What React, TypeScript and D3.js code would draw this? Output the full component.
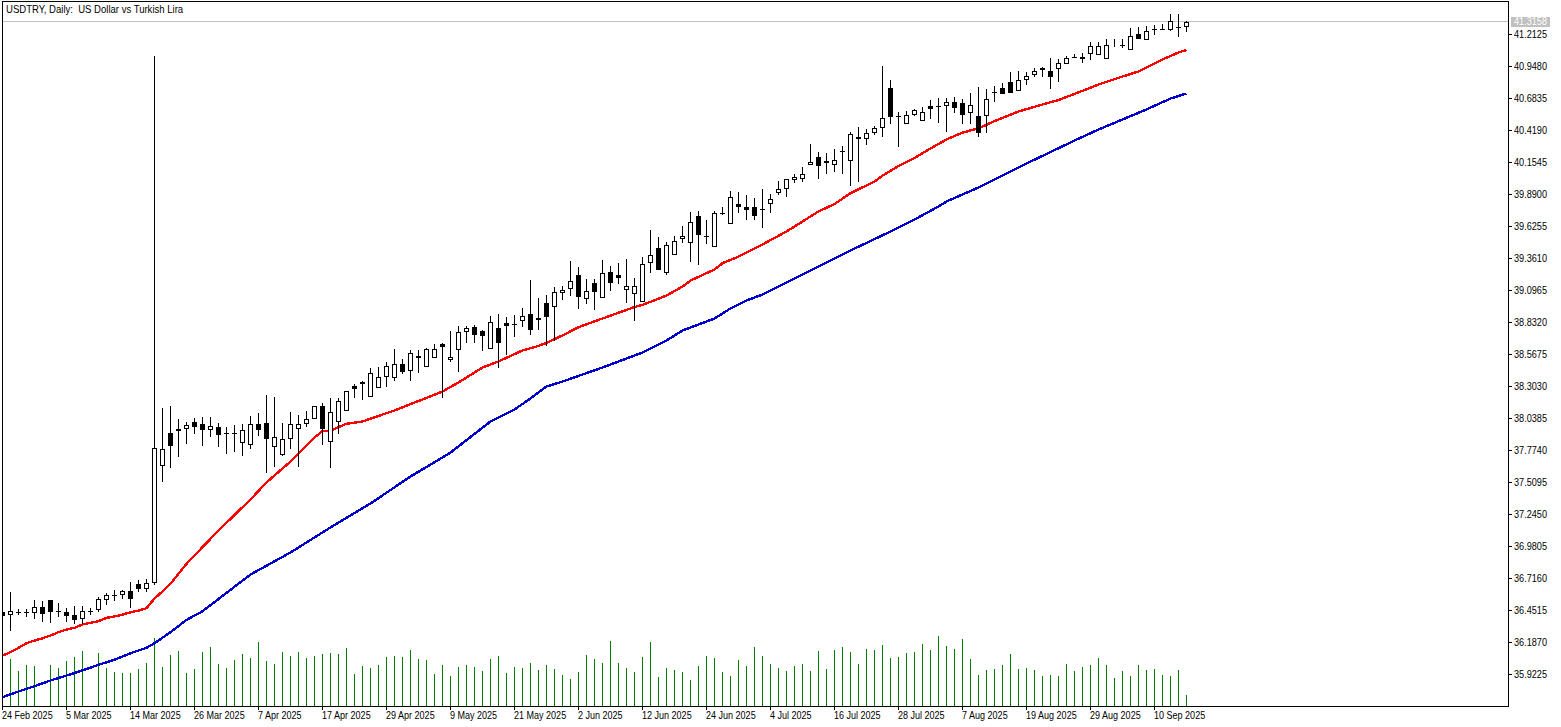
import React from "react";
import * as d3 from "d3";

const opens = [
  36.435, 36.408, 36.439, 36.435, 36.424, 36.474, 36.531, 36.444, 36.435, 36.408,
  36.375, 36.444, 36.454, 36.537, 36.576, 36.573, 36.606, 36.664, 36.628, 36.672,
  37.640, 37.912, 37.945, 37.945, 38.003, 37.986, 37.942, 37.962, 37.915, 37.915,
  37.829, 37.813, 37.986, 37.997, 37.796, 37.730, 37.862, 37.945, 37.986, 38.028,
  38.135, 37.838, 38.003, 38.094, 38.300, 38.317, 38.210, 38.284, 38.375, 38.367,
  38.482, 38.424, 38.549, 38.458, 38.532, 38.648, 38.515, 38.598, 38.747, 38.788,
  38.755, 38.606, 38.780, 38.821, 38.813, 38.838, 38.896, 38.863, 38.987, 38.953,
  39.069, 39.102, 39.218, 39.020, 39.152, 39.028, 39.243, 39.218, 39.094, 39.061,
  38.999, 39.317, 39.441, 39.235, 39.383, 39.515, 39.482, 39.705, 39.540, 39.449,
  39.732, 39.639, 39.807, 39.782, 39.782, 39.766, 39.809, 39.900, 39.928, 40.003,
  40.011, 40.127, 40.194, 40.160, 40.127, 40.243, 40.160, 40.342, 40.342, 40.392,
  40.433, 40.764, 40.532, 40.466, 40.540, 40.491, 40.615, 40.615, 40.615, 40.648,
  40.640, 40.557, 40.532, 40.532, 40.733, 40.764, 40.813, 40.739, 40.830, 40.871,
  40.929, 40.904, 40.921, 40.962, 41.020, 41.020, 41.045, 41.036, 41.003, 41.105,
  41.119, 41.080, 41.210, 41.160, 41.251, 41.251, 41.243, 41.268, 41.268,
];
const highs = [
  36.460, 36.600, 36.462, 36.457, 36.534, 36.523, 36.531, 36.509, 36.470, 36.482,
  36.484, 36.470, 36.556, 36.592, 36.619, 36.619, 36.685, 36.699, 36.710, 41.031,
  38.121, 38.135, 38.030, 38.005, 38.038, 38.044, 38.044, 37.997, 37.964, 37.981,
  37.989, 38.055, 38.080, 38.228, 38.212, 37.997, 38.086, 38.063, 38.094, 38.135,
  38.162, 38.201, 38.201, 38.259, 38.319, 38.344, 38.452, 38.460, 38.504, 38.609,
  38.526, 38.598, 38.601, 38.615, 38.650, 38.656, 38.758, 38.799, 38.799, 38.805,
  38.763, 38.879, 38.896, 38.871, 38.887, 38.945, 39.179, 39.030, 39.055, 39.118,
  39.127, 39.336, 39.284, 39.185, 39.185, 39.342, 39.292, 39.320, 39.350, 39.193,
  39.367, 39.592, 39.532, 39.491, 39.540, 39.625, 39.738, 39.749, 39.675, 39.747,
  39.780, 39.915, 39.904, 39.881, 39.857, 39.931, 39.887, 39.997, 40.011, 40.053,
  40.113, 40.303, 40.235, 40.226, 40.262, 40.287, 40.400, 40.444, 40.425, 40.450,
  40.948, 40.832, 40.565, 40.573, 40.590, 40.607, 40.664, 40.681, 40.681, 40.689,
  40.673, 40.722, 40.772, 40.755, 40.783, 40.805, 40.898, 40.907, 40.896, 40.929,
  40.937, 41.014, 41.003, 41.028, 41.047, 41.053, 41.144, 41.144, 41.169, 41.169,
  41.169, 41.260, 41.268, 41.276, 41.284, 41.293, 41.375, 41.375, 41.317,
];
const lows = [
  36.385, 36.280, 36.408, 36.396, 36.374, 36.352, 36.346, 36.391, 36.352, 36.336,
  36.336, 36.408, 36.437, 36.495, 36.528, 36.540, 36.465, 36.598, 36.603, 36.660,
  37.512, 37.625, 37.719, 37.824, 37.906, 37.807, 37.881, 37.799, 37.741, 37.758,
  37.724, 37.785, 37.890, 37.584, 37.636, 37.727, 37.780, 37.636, 37.967, 38.028,
  37.815, 37.625, 37.906, 38.094, 38.204, 38.187, 38.210, 38.284, 38.295, 38.344,
  38.405, 38.347, 38.413, 38.458, 38.532, 38.206, 38.504, 38.421, 38.661, 38.661,
  38.595, 38.606, 38.454, 38.557, 38.711, 38.788, 38.722, 38.763, 38.631, 38.675,
  39.016, 39.044, 38.942, 38.983, 38.934, 39.028, 39.091, 39.149, 38.992, 38.840,
  38.999, 39.240, 39.259, 39.218, 39.383, 39.482, 39.325, 39.305, 39.479, 39.449,
  39.718, 39.639, 39.735, 39.675, 39.675, 39.611, 39.733, 39.881, 39.865, 39.981,
  39.989, 40.127, 40.014, 40.055, 40.072, 40.055, 39.956, 39.989, 40.295, 40.380,
  40.361, 40.466, 40.281, 40.466, 40.532, 40.491, 40.510, 40.479, 40.400, 40.557,
  40.466, 40.466, 40.364, 40.392, 40.650, 40.714, 40.722, 40.739, 40.788, 40.855,
  40.855, 40.755, 40.813, 40.962, 41.012, 40.970, 40.995, 41.036, 41.003, 41.103,
  41.094, 41.078, 41.169, 41.160, 41.202, 41.243, 41.235, 41.185, 41.231,
];
const closes = [
  36.404, 36.441, 36.431, 36.427, 36.479, 36.421, 36.437, 36.433, 36.404, 36.371,
  36.446, 36.435, 36.540, 36.573, 36.565, 36.606, 36.540, 36.625, 36.675, 37.788,
  37.780, 37.809, 37.934, 37.978, 37.967, 37.942, 37.970, 37.901, 37.909, 37.909,
  37.937, 37.986, 37.942, 37.867, 37.879, 37.867, 37.986, 37.986, 38.028, 38.135,
  37.950, 38.086, 38.176, 38.259, 38.281, 38.334, 38.408, 38.375, 38.466, 38.482,
  38.421, 38.573, 38.537, 38.606, 38.606, 38.628, 38.540, 38.747, 38.780, 38.722,
  38.714, 38.830, 38.656, 38.796, 38.805, 38.879, 38.763, 38.846, 38.877, 39.078,
  39.094, 39.168, 39.041, 39.086, 39.082, 39.235, 39.157, 39.198, 39.127, 39.127,
  39.309, 39.383, 39.259, 39.466, 39.499, 39.540, 39.656, 39.553, 39.532, 39.730,
  39.722, 39.867, 39.785, 39.757, 39.710, 39.757, 39.846, 39.928, 40.011, 40.028,
  40.053, 40.152, 40.119, 40.143, 40.169, 40.234, 40.383, 40.359, 40.392, 40.433,
  40.516, 40.524, 40.524, 40.540, 40.581, 40.565, 40.595, 40.607, 40.648, 40.598,
  40.539, 40.623, 40.392, 40.673, 40.722, 40.714, 40.722, 40.830, 40.863, 40.904,
  40.912, 40.855, 40.970, 41.012, 41.012, 41.003, 41.111, 41.111, 41.119, 41.111,
  41.111, 41.193, 41.169, 41.235, 41.243, 41.243, 41.317, 41.260, 41.3158,
];
const volumes = [
  0, 47, 35, 41, 40, 0, 41, 38, 45, 49,
  55, 0, 53, 38, 34, 33, 33, 37, 43, 68,
  39, 51, 55, 33, 37, 54, 59, 42, 38, 46,
  52, 48, 64, 45, 42, 54, 50, 54, 48, 50,
  52, 53, 52, 58, 32, 40, 38, 41, 49, 50,
  49, 56, 47, 46, 32, 41, 30, 39, 41, 39,
  35, 47, 50, 33, 39, 38, 43, 36, 41, 37,
  31, 27, 34, 51, 47, 43, 65, 43, 38, 34,
  49, 64, 29, 38, 36, 34, 26, 40, 50, 48,
  34, 30, 46, 40, 59, 50, 42, 38, 35, 40,
  42, 35, 55, 37, 56, 59, 54, 42, 57, 56,
  61, 48, 49, 53, 54, 62, 56, 70, 60, 57,
  67, 47, 31, 36, 37, 41, 52, 37, 38, 36,
  30, 31, 30, 42, 35, 39, 41, 48, 41, 28,
  35, 30, 41, 36, 37, 31, 30, 36, 11,
];

const redBars = [
  0, 1, 2, 3, 4, 5, 6, 7, 8, 9, 10, 11, 12, 13, 14, 15, 16, 17, 18, 19, 20, 21, 22, 23,
  27, 31, 33, 36, 39, 40, 41, 43, 45, 49, 52, 55, 57, 60, 62, 65, 67, 68, 70, 72, 75, 79, 80,
  83, 85, 86, 89, 90, 92, 95, 98, 102, 104, 106, 109, 110, 112, 114, 116, 118, 120, 122, 124,
  127, 130, 132, 134, 137, 140, 142, 145, 147, 148,
];
const redValues = [
  36.079, 36.107, 36.143, 36.181, 36.203, 36.222, 36.245, 36.272, 36.294, 36.308, 36.336, 36.350,
  36.363, 36.391, 36.402, 36.418, 36.437, 36.451, 36.470, 36.551, 36.609, 36.672, 36.755, 36.837,
  37.113, 37.369, 37.510, 37.683, 37.881, 37.934, 37.939, 37.995, 38.014, 38.105, 38.183, 38.262,
  38.336, 38.460, 38.510, 38.601, 38.638, 38.664, 38.725, 38.793, 38.865, 38.960, 38.977,
  39.055, 39.129, 39.179, 39.270, 39.322, 39.377, 39.477, 39.584, 39.750, 39.811, 39.901, 39.997,
  40.047, 40.125, 40.192, 40.270, 40.345, 40.402, 40.436, 40.497,
  40.576, 40.634, 40.671, 40.721, 40.799, 40.865, 40.907, 41.006, 41.064, 41.084,
];
const blueBars = [
  0, 2, 4, 6, 8, 10, 12, 14, 16, 18, 19, 21, 23, 25, 31, 36, 41, 46, 51, 56, 61, 64, 66, 68, 70,
  75, 80, 83, 85, 89, 91, 93, 95, 100, 106, 111, 114, 117, 118, 122, 128, 134, 137, 140, 143, 146, 148,
];
const blueValues = [
  35.735, 35.782, 35.826, 35.873, 35.914, 35.956, 36.003, 36.044, 36.098, 36.143, 36.181, 36.272,
  36.374, 36.445, 36.749, 36.931, 37.138, 37.336, 37.559, 37.757, 38.014, 38.113, 38.204, 38.303,
  38.344, 38.460, 38.584, 38.683, 38.766, 38.865, 38.948, 39.014, 39.063, 39.229, 39.427, 39.584,
  39.683, 39.791, 39.832, 39.948, 40.146, 40.336, 40.427, 40.510, 40.593, 40.683, 40.725,
];

const priceTicks = [
  "41.2125", "40.9480", "40.6835", "40.4190", "40.1545", "39.8900", "39.6255",
  "39.3610", "39.0965", "38.8320", "38.5675", "38.3030", "38.0385", "37.7740",
  "37.5095", "37.2450", "36.9805", "36.7160", "36.4515", "36.1870", "35.9225",
];
const dateTicks = [
  "24 Feb 2025", "5 Mar 2025", "14 Mar 2025", "26 Mar 2025", "7 Apr 2025", "17 Apr 2025",
  "29 Apr 2025", "9 May 2025", "21 May 2025", "2 Jun 2025", "12 Jun 2025", "24 Jun 2025",
  "4 Jul 2025", "16 Jul 2025", "28 Jul 2025", "7 Aug 2025", "19 Aug 2025", "29 Aug 2025",
  "10 Sep 2025",
];
const TICK_EVERY = 8;
const lastPrice = 41.3158;
const title = "USDTRY, Daily:  US Dollar vs Turkish Lira";

const W = 1561;
const H = 727;
const AXIS_X = 1508;
const BASE_Y = 706;
const FONT = "'Liberation Sans', sans-serif";

const x = d3.scaleLinear().domain([0, opens.length - 1]).range([2, 1186]);
const y = d3.scaleLinear().domain([41.2125, 35.9225]).range([34, 674]);
const vy = d3.scaleLinear().domain([0, 100]).range([BASE_Y, BASE_Y - 100]);
const lineOf = (bars: number[], vals: number[]) =>
  d3.line<number>().x((b) => x(b) + 0.5).y((_, k) => y(vals[k]) + 0.5)(bars) as string;

function Label({ px, py, sx, fill = "#000", children }: { px: number; py: number; sx: number; fill?: string; children: string }) {
  return (
    <text
      transform={`translate(${px},${py}) scale(${sx},1)`}
      fill={fill}
      xmlSpace="preserve"
      style={{ fontFamily: FONT, fontSize: 10.5 }}
    >
      {children}
    </text>
  );
}

export default function App() {
  const lastRow = Math.floor(y(lastPrice));
  return (
    <svg width={W} height={H} style={{ position: "absolute", left: 0, top: 0, background: "#fff" }}>
      <defs>
        <clipPath id="plot">
          <rect x={2} y={1} width={AXIS_X - 2} height={BASE_Y - 1} />
        </clipPath>
      </defs>

      <line x1={2} x2={AXIS_X} y1={lastRow + 0.5} y2={lastRow + 0.5} stroke="#c0c0c0" shapeRendering="crispEdges" />

      <g clipPath="url(#plot)">
        <g shapeRendering="crispEdges">
          {volumes.map((v, i) =>
            v > 0 ? <line key={i} x1={x(i) + 0.5} x2={x(i) + 0.5} y1={BASE_Y} y2={vy(v)} stroke="#008000" /> : null
          )}
        </g>

        <path d={lineOf(redBars, redValues)} fill="none" stroke="#ff0000" strokeWidth={2.4} shapeRendering="crispEdges" />
        <path d={lineOf(blueBars, blueValues)} fill="none" stroke="#0000cd" strokeWidth={2.4} shapeRendering="crispEdges" />

        <g shapeRendering="crispEdges">
          {opens.map((o, i) => {
            const c = closes[i];
            const cx = x(i);
            const up = c >= o;
            const top = Math.round(y(Math.max(o, c)));
            const bot = Math.max(Math.round(y(Math.min(o, c))), top + 1);
            return (
              <g key={i}>
                <line x1={cx + 0.5} x2={cx + 0.5} y1={Math.round(y(highs[i]))} y2={Math.round(y(lows[i]))} stroke="#000" />
                {up ? (
                  <rect x={cx - 1.5} y={top + 0.5} width={4} height={Math.max(bot - top - 1, 0)} fill="#fff" stroke="#000" />
                ) : (
                  <rect x={cx - 2} y={top} width={5} height={bot - top} fill="#000" />
                )}
              </g>
            );
          })}
        </g>
      </g>

      <g shapeRendering="crispEdges" stroke="#000">
        <line x1={2.5} x2={2.5} y1={1} y2={BASE_Y} />
        <line x1={2} x2={AXIS_X + 1} y1={1.5} y2={1.5} />
        <line x1={AXIS_X + 0.5} x2={AXIS_X + 0.5} y1={1} y2={BASE_Y} />
        <line x1={2} x2={AXIS_X + 1} y1={BASE_Y + 0.5} y2={BASE_Y + 0.5} />
        {priceTicks.map((t) => {
          const ty = Math.round(y(+t)) + 0.5;
          return <line key={t} x1={AXIS_X} x2={AXIS_X + 4} y1={ty} y2={ty} />;
        })}
        {dateTicks.map((t, k) => (
          <line key={t} x1={x(k * TICK_EVERY) + 0.5} x2={x(k * TICK_EVERY) + 0.5} y1={BASE_Y} y2={BASE_Y + 4} />
        ))}
      </g>

      {priceTicks.map((t) => (
        <Label key={t} px={AXIS_X + 6} py={Math.round(y(+t)) + 4} sx={0.87}>{t}</Label>
      ))}
      {dateTicks.map((t, k) => (
        <Label key={t} px={x(k * TICK_EVERY)} py={719} sx={0.86}>{t}</Label>
      ))}

      <rect x={AXIS_X + 3} y={17} width={39} height={10} fill="#c0c0c0" shapeRendering="crispEdges" />
      <Label px={AXIS_X + 6} py={lastRow + 4} sx={0.87} fill="#fff">{lastPrice.toFixed(4)}</Label>

      <Label px={6} py={13} sx={0.91}>{title}</Label>
    </svg>
  );
}
